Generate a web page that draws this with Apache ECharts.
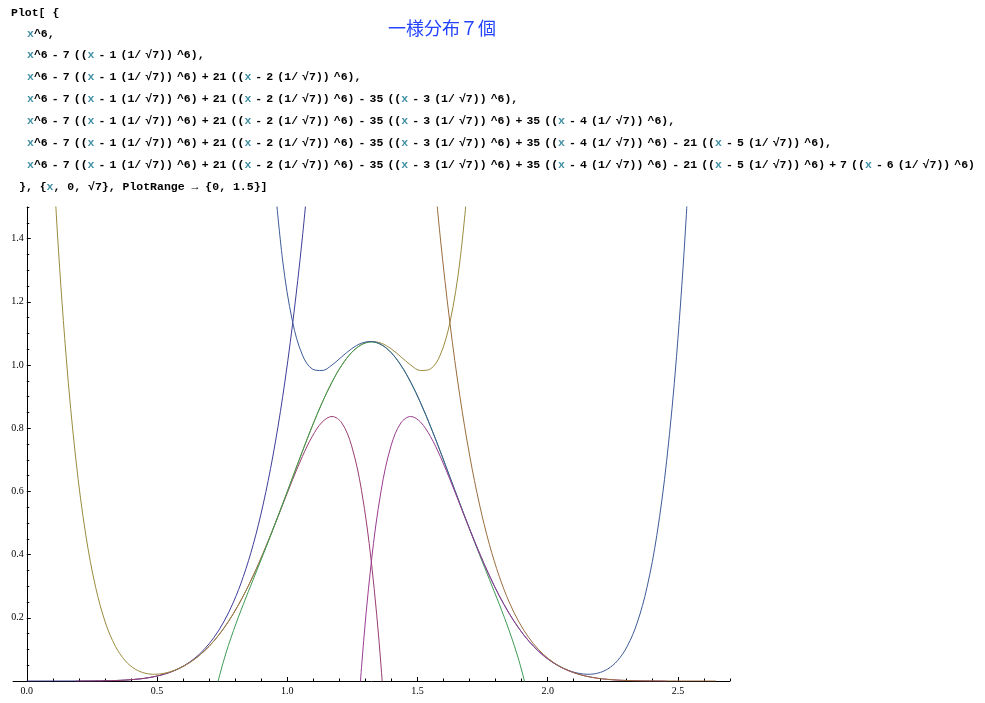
<!DOCTYPE html>
<html>
<head>
<meta charset="utf-8">
<script src="https://cdn.jsdelivr.net/npm/echarts@6/dist/echarts.min.js"></script>
<style>
html,body{margin:0;padding:0;background:#ffffff;}
#chart{width:985px;height:703px;}
</style>
</head>
<body>
<div id="chart"></div>
<script>
// x sample positions (x = n/(10*sqrt7), n = 0..70)
const xs = [0,0.0378,0.0756,0.1134,0.1512,0.1890,0.2268,0.2646,0.3024,0.3402,
0.3780,0.4158,0.4536,0.4914,0.5292,0.5669,0.6047,0.6425,0.6803,0.7181,
0.7559,0.7937,0.8315,0.8693,0.9071,0.9449,0.9827,1.0205,1.0583,1.0961,
1.1339,1.1717,1.2095,1.2473,1.2851,1.3229,1.3607,1.3985,1.4363,1.4741,
1.5119,1.5497,1.5875,1.6252,1.6630,1.7008,1.7386,1.7764,1.8142,1.8520,
1.8898,1.9276,1.9654,2.0032,2.0410,2.0788,2.1166,2.1544,2.1922,2.2300,
2.2678,2.3056,2.3434,2.3812,2.4190,2.4568,2.4946,2.5324,2.5702,2.6080,
2.6458];

// curve 1: x^6
const y1 = [0,0,0,0,0,0,0.0001,0.0003,0.0008,0.0015,
0.0029,0.0052,0.0087,0.0141,0.0220,0.0332,0.0489,0.0704,0.0992,0.1372,
0.1866,0.2500,0.3306,0.4316,0.5572,0.7118,0.9006,1.1295,1.4049,1.7342,
null,null,null,null,null,null,null,null,null,null,
null,null,null,null,null,null,null,null,null,null,
null,null,null,null,null,null,null,null,null,null,
null,null,null,null,null,null,null,null,null,null,
null];

// curve 2
const y2 = [null,null,null,null,null,-0.0003,0.0001,0.0003,0.0008,0.0015,
0.0029,0.0052,0.0087,0.0141,0.0219,0.0329,0.0480,0.0680,0.0938,0.1263,
0.1662,0.2139,0.2696,0.3331,0.4035,0.4793,0.5582,0.6369,0.7108,0.7741,
0.8192,0.8371,0.8166,0.7441,0.6037,0.3769,0.0419,-0.4263,null,null,
null,null,null,null,null,null,null,null,null,null,
null,null,null,null,null,null,null,null,null,null,
null,null,null,null,null,null,null,null,null,null,
null];

// curve 3
const y3 = [null,null,2.0770,1.4754,1.0262,0.6971,0.4610,0.2958,0.1836,0.1100,
0.0641,0.0377,0.0248,0.0213,0.0247,0.0338,0.0482,0.0680,0.0938,0.1263,
0.1662,0.2139,0.2696,0.3331,0.4037,0.4803,0.5611,0.6441,0.7269,0.8066,
0.8805,0.9456,0.9994,1.0396,1.0647,1.0743,1.0691,1.0515,1.0261,0.9998,
0.9825,0.9874,1.0315,1.1366,1.3290,1.6410,null,null,null,null,
null,null,null,null,null,null,null,null,null,null,
null,null,null,null,null,null,null,null,null,null,
null];

// curve 4
const y4 = [null,null,null,null,null,null,null,null,null,null,
null,null,null,null,null,null,null,null,null,-0.0545,
0.0641,0.1597,0.2429,0.3211,0.3990,0.4787,0.5607,0.6440,0.7268,0.8066,
0.8805,0.9456,0.9994,1.0395,1.0643,1.0727,1.0643,1.0395,0.9994,0.9456,
0.8805,0.8066,0.7268,0.6440,0.5607,0.4787,0.3990,0.3211,0.2429,0.1597,
0.0641,-0.0545,null,null,null,null,null,null,null,null,
null,null,null,null,null,null,null,null,null,null,
null];

// curve 5
const y5 = [null,null,null,null,null,null,null,null,null,null,
null,null,null,null,null,null,null,null,null,null,
null,null,null,null,null,1.6410,1.3290,1.1366,1.0315,0.9874,
0.9825,0.9998,1.0261,1.0515,1.0691,1.0743,1.0647,1.0396,0.9994,0.9456,
0.8805,0.8066,0.7269,0.6441,0.5611,0.4803,0.4037,0.3331,0.2696,0.2139,
0.1662,0.1263,0.0938,0.0680,0.0482,0.0338,0.0247,0.0213,0.0248,0.0377,
0.0641,0.1100,0.1836,0.2958,0.4610,0.6971,1.0262,1.4754,2.0770,null,
null];

// curve 6
const y6 = [null,null,null,null,null,null,null,null,null,null,
null,null,null,null,null,null,null,null,null,null,
null,null,null,null,null,null,null,null,null,null,
null,null,null,-0.4263,0.0419,0.3769,0.6037,0.7441,0.8166,0.8371,
0.8192,0.7741,0.7108,0.6369,0.5582,0.4793,0.4035,0.3331,0.2696,0.2139,
0.1662,0.1263,0.0938,0.0680,0.0480,0.0329,0.0219,0.0141,0.0087,0.0052,
0.0029,0.0015,0.0008,0.0003,0.0001,-0.0003,null,null,null,null,
null];

// curve 7
const y7 = [null,null,null,null,null,null,null,null,null,null,
null,null,null,null,null,null,null,null,null,null,
null,null,null,null,null,null,null,null,null,null,
null,null,null,null,null,null,null,null,null,null,
null,1.7342,1.4049,1.1295,0.9006,0.7118,0.5572,0.4316,0.3306,0.2500,
0.1866,0.1372,0.0992,0.0704,0.0489,0.0332,0.0220,0.0141,0.0087,0.0052,
0.0029,0.0015,0.0008,0.0003,0.0001,0,0,0,0,0,
0];

const xLabelValues = [0, 0.5, 1, 1.5, 2, 2.5];
const xMinorTicks = [0.1,0.2,0.3,0.4,0.6,0.7,0.8,0.9,1.1,1.2,1.3,1.4,1.6,1.7,1.8,1.9,2.1,2.2,2.3,2.4,2.6,2.7];
const yLabelValues = [0.2, 0.4, 0.6, 0.8, 1.0, 1.2, 1.4];
const yMinorTicks = [0.05,0.1,0.15,0.25,0.3,0.35,0.45,0.5,0.55,0.65,0.7,0.75,0.85,0.9,0.95,1.05,1.1,1.15,1.25,1.3,1.35,1.45,1.5];

const titleText = '一様分布７個';
const codeLines = [
  'Plot[ {',
  'x^6,',
  'x^6 - 7 ((x - 1 (1/ √7)) ^6),',
  'x^6 - 7 ((x - 1 (1/ √7)) ^6) + 21 ((x - 2 (1/ √7)) ^6),',
  'x^6 - 7 ((x - 1 (1/ √7)) ^6) + 21 ((x - 2 (1/ √7)) ^6) - 35 ((x - 3 (1/ √7)) ^6),',
  'x^6 - 7 ((x - 1 (1/ √7)) ^6) + 21 ((x - 2 (1/ √7)) ^6) - 35 ((x - 3 (1/ √7)) ^6) + 35 ((x - 4 (1/ √7)) ^6),',
  'x^6 - 7 ((x - 1 (1/ √7)) ^6) + 21 ((x - 2 (1/ √7)) ^6) - 35 ((x - 3 (1/ √7)) ^6) + 35 ((x - 4 (1/ √7)) ^6) - 21 ((x - 5 (1/ √7)) ^6),',
  'x^6 - 7 ((x - 1 (1/ √7)) ^6) + 21 ((x - 2 (1/ √7)) ^6) - 35 ((x - 3 (1/ √7)) ^6) + 35 ((x - 4 (1/ √7)) ^6) - 21 ((x - 5 (1/ √7)) ^6) + 7 ((x - 6 (1/ √7)) ^6)',
  '}, {x, 0, √7}, PlotRange → {0, 1.5}]'
];

// layout / style (kept apart from data)
const codeX = [11, 27, 27, 27, 27, 27, 27, 27, 19];
const codeY = [12.7, 34.3, 55.2, 77.5, 99.2, 121.2, 143.3, 165.5, 187.6];
const codeNarrow = [false, true, true, true, true, true, true, true, false];
const seriesColors = ['#3F3D99', '#993D71', '#998B3D', '#3D9956', '#3D5A99', '#993D90', '#996D3D'];
const codeFont = 'bold 11.5px "Liberation Mono", "DejaVu Sans Mono", monospace';
const spaceFont = 'bold 6.8px "Liberation Mono", "DejaVu Sans Mono", monospace';
const tickFont = '"Liberation Serif", "Times New Roman", serif';
const yAxisOffset = -13.78;

function richify(line, narrow) {
  let out = '';
  for (const ch of line) {
    if (ch === 'x') out += '{v|x}';
    else if (ch === ' ' && narrow) out += '{s| }';
    else out += ch;
  }
  return out;
}

const chart = echarts.init(document.getElementById('chart'), null, { renderer: 'canvas' });

const allY = [y1, y2, y3, y4, y5, y6, y7];
const series = allY.map((ys, k) => ({
  type: 'line',
  xAxisIndex: 0,
  yAxisIndex: 0,
  data: xs.map((x, i) => (ys[i] === null ? null : [x, ys[i]])).filter(d => d !== null),
  showSymbol: false,
  symbol: 'none',
  smooth: 0.35,
  clip: true,
  silent: true,
  animation: false,
  lineStyle: { color: seriesColors[k], width: 1 },
  itemStyle: { color: seriesColors[k] },
  emphasis: { disabled: true }
}));

const graphics = codeLines.map((line, i) => ({
  type: 'text',
  x: codeX[i],
  y: codeY[i],
  silent: true,
  style: {
    text: richify(line, codeNarrow[i]),
    font: codeFont,
    fill: '#000000',
    align: 'left',
    verticalAlign: 'middle',
    rich: {
      v: { font: codeFont, fill: '#3F8FA3' },
      s: { font: spaceFont, fill: '#000000' }
    }
  }
}));
graphics.push({
  type: 'text',
  x: 442,
  y: 28.5,
  silent: true,
  style: {
    text: titleText,
    font: '18px "Noto Sans CJK JP", "Noto Sans CJK SC", sans-serif',
    fill: '#2343FF',
    align: 'center',
    verticalAlign: 'middle'
  }
});

const option = {
  backgroundColor: '#ffffff',
  animation: false,
  grid: {
    left: 13, top: 207, width: 717, height: 474,
    containLabel: false,
    outerBoundsMode: 'none',
    show: false
  },
  xAxis: [
    {
      type: 'value', gridIndex: 0, position: 'bottom',
      min: -0.0529, max: 2.7,
      axisLine: { show: true, onZero: false, lineStyle: { color: '#000000', width: 1 } },
      axisTick: { show: true, inside: true, length: 4, customValues: xLabelValues, lineStyle: { color: '#000000', width: 1 } },
      axisLabel: {
        show: true, customValues: xLabelValues,
        formatter: v => Number(v).toFixed(1),
        margin: 5, color: '#000000', fontFamily: tickFont, fontSize: 10
      },
      splitLine: { show: false }, minorTick: { show: false }, minorSplitLine: { show: false }
    },
    {
      type: 'value', gridIndex: 0, position: 'bottom',
      min: -0.0529, max: 2.7,
      axisLine: { show: true, onZero: false, lineStyle: { color: '#000000', width: 1, opacity: 0 } },
      axisTick: { show: true, inside: true, length: 2.5, customValues: xMinorTicks, lineStyle: { color: '#000000', width: 1 } },
      axisLabel: { show: false },
      splitLine: { show: false }
    }
  ],
  yAxis: [
    {
      type: 'value', gridIndex: 0, position: 'left', offset: yAxisOffset,
      min: 0, max: 1.5,
      axisLine: { show: true, onZero: false, lineStyle: { color: '#000000', width: 1 } },
      axisTick: { show: true, inside: true, length: 4, customValues: yLabelValues, lineStyle: { color: '#000000', width: 1 } },
      axisLabel: {
        show: true, customValues: yLabelValues,
        formatter: v => Number(v).toFixed(1),
        margin: 3, color: '#000000', fontFamily: tickFont, fontSize: 10
      },
      splitLine: { show: false }, minorTick: { show: false }
    },
    {
      type: 'value', gridIndex: 0, position: 'left', offset: yAxisOffset,
      min: 0, max: 1.5,
      axisLine: { show: true, onZero: false, lineStyle: { color: '#000000', width: 1, opacity: 0 } },
      axisTick: { show: true, inside: true, length: 2.5, customValues: yMinorTicks, lineStyle: { color: '#000000', width: 1 } },
      axisLabel: { show: false },
      splitLine: { show: false }
    }
  ],
  tooltip: { show: false },
  graphic: graphics,
  series: series
};

chart.setOption(option);
</script>
</body>
</html>
